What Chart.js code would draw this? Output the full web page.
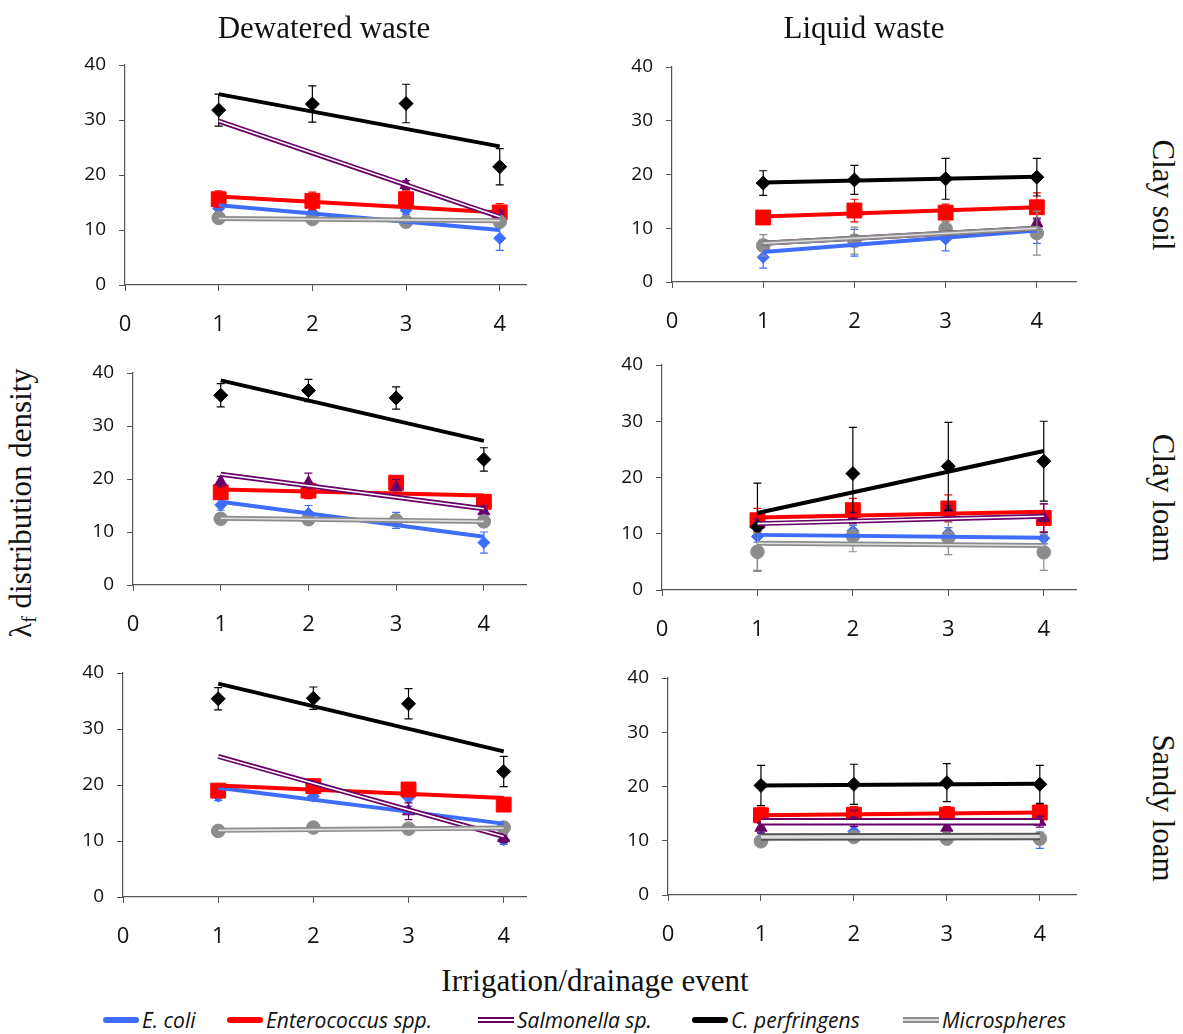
<!DOCTYPE html>
<html>
<head>
<meta charset="utf-8">
<script src="https://cdn.jsdelivr.net/npm/chart.js@4.4.1/dist/chart.umd.min.js"></script>
<style>
  body { margin: 0; background: #fff; }
  #page { position: relative; width: 1183px; height: 1034px; overflow: hidden; background: #fff; font-family: 'Liberation Serif', 'Times New Roman', serif; color: #111; }
  canvas { position: absolute; }
  .lbl { position: absolute; font-size: 31px; white-space: nowrap; transform: translate(-50%, -50%); line-height: 1; }
  .rot-r { transform: translate(-50%, -50%) rotate(90deg); }
  .rot-l { transform: translate(-50%, -50%) rotate(-90deg); }
  .rot-l sub { font-size: 20px; vertical-align: -5px; }
  .leg { position: absolute; top: 1007px; height: 26px; display: flex; align-items: center; font-family: 'Open Sans', sans-serif; font-style: italic; font-size: 21px; color: #111; white-space: nowrap; }
  .sw { width: 36px; height: 6px; border-radius: 3px; margin-right: 3px; box-sizing: border-box; }
</style>
</head>
<body>
<div id="page"></div>
<script>
// irrigation/drainage events and labels
const events = [1, 2, 3, 4];
const xTicks = [0, 1, 2, 3, 4];
const yTicks = [0, 10, 20, 30, 40];
const species = ['E. coli', 'Enterococcus spp.', 'Salmonella sp.', 'C. perfringens', 'Microspheres'];
const columnTitles = ['Dewatered waste', 'Liquid waste'];
const rowTitles = ['Clay soil', 'Clay loam', 'Sandy loam'];

// values per species: E. coli, Enterococcus, Salmonella, C. perfringens, Microspheres
const dewClaySoil = [[13.9, 13.2, 13.6, 8.5], [15.6, 15.3, 15.6, 13.2], [null, null, 18.2, 12.7], [31.8, 32.9, 33.0, 21.5], [12.2, 12.0, 11.5, 11.5]];
const dewClaySoilErr = [[0.8, 0.8, 0.8, 2.2], [1.5, 1.6, 1.5, 1.6], [0, 0, 0.8, 0.8], [2.9, 3.3, 3.5, 3.3], [0.8, 0.8, 0.8, 0.8]];
const dewClaySoilTrend = [[14.5, 10.0], [16.1, 13.2], [29.8, 12.4], [34.7, 25.2], [12.1, 11.7]];

const liqClaySoil = [[4.6, 7.3, 8.0, 9.4], [12.0, 13.3, 12.9, 13.9], [6.8, 7.6, 9.6, 10.9], [18.4, 19.0, 19.2, 19.5], [6.8, 7.7, 9.9, 9.1]];
const liqClaySoilErr = [[2.0, 2.5, 2.2, 2.2], [0.5, 2.1, 1.6, 2.7], [1.0, 1.0, 1.0, 1.0], [2.3, 2.7, 3.8, 3.5], [2.0, 2.5, 1.5, 4.1]];
const liqClaySoilTrend = [[5.6, 9.6], [12.2, 13.9], [7.2, 10.0], [18.5, 19.6], [7.2, 10.0]];

const dewClayLoam = [[15.1, 13.5, 12.2, 8.0], [17.5, 17.8, 19.3, 15.7], [19.5, 19.3, 18.4, 13.9], [35.8, 36.7, 35.3, 23.7], [12.5, 12.4, 12.2, 12.0]];
const dewClayLoamErr = [[1.0, 1.5, 1.5, 2.0], [1.0, 1.5, 1.0, 1.0], [1.0, 1.8, 1.5, 1.0], [2.2, 2.1, 2.1, 2.2], [0.8, 0.8, 1.0, 0.8]];
const dewClayLoamTrend = [[15.7, 9.1], [18.0, 16.9], [20.9, 14.4], [38.6, 27.2], [12.6, 12.0]];

const liqClayLoam = [[9.5, 10.5, 10.1, 9.2], [12.4, 14.2, 14.5, 12.8], [11.6, 12.8, 14.0, 12.8], [11.2, 20.7, 22.0, 22.9], [6.8, 9.6, 9.3, 6.7]];
const liqClayLoamErr = [[1.0, 1.0, 1.0, 1.0], [2.1, 2.1, 2.4, 2.5], [1.0, 1.0, 1.0, 2.5], [7.8, 8.2, 7.8, 7.1], [3.3, 2.8, 3.0, 3.2]];
const liqClayLoamTrend = [[9.8, 9.3], [12.9, 13.9], [11.8, 13.1], [13.7, 24.7], [8.3, 7.9]];

const dewSandyLoam = [[18.0, 18.0, 17.7, 10.2], [19.0, 19.8, 19.2, 16.5], [null, null, 15.3, 10.5], [35.4, 35.5, 34.5, 22.4], [11.8, 12.4, 12.2, 12.4]];
const dewSandyLoamErr = [[0.8, 0.8, 1.5, 0.8], [0.8, 0.8, 0.8, 0.8], [0, 0, 1.5, 0.8], [2.0, 2.0, 2.7, 2.7], [0.5, 0.5, 0.5, 0.5]];
const dewSandyLoamTrend = [[19.5, 13.1], [19.9, 17.7], [25.1, 10.8], [38.1, 26.0], [11.9, 12.3]];

const liqSandyLoam = [[10.5, 11.7, 11.0, 10.1], [14.7, 14.8, 14.8, 15.2], [12.4, 14.1, 12.4, 13.5], [20.2, 20.4, 20.7, 20.4], [9.9, 10.7, 10.4, 10.4]];
const liqSandyLoamErr = [[1.0, 1.0, 1.0, 1.5], [1.5, 1.5, 1.5, 1.5], [1.0, 1.5, 1.0, 1.0], [3.7, 3.7, 3.5, 3.5], [0.8, 0.8, 0.8, 0.8]];
const liqSandyLoamTrend = [[10.6, 10.6], [14.7, 15.2], [13.5, 13.5], [20.2, 20.5], [10.7, 10.8]];

// look of each species
const styles = [
  { color: '#3d6dfa', point: 'rectRot', r: 6, lw: 4 },
  { color: '#ff0000', point: 'rect', r: 10.5, lw: 4 },
  { color: '#680068', point: 'triangle', r: 7, lw: 5, inner: '#ffffff' },
  { color: '#000000', point: 'rectRot', r: 7, lw: 4 },
  { color: '#8c8c8c', point: 'circle', r: 6.8, lw: 5, inner: '#dedede' }
];

// panel placement in page pixels
const AXW = 70, AXH = 62, TPAD = 26, RPAD = 8;
const panels = [
  { vals: dewClaySoil, err: dewClaySoilErr, trend: dewClaySoilTrend, x0: 125, x4: 503, xEnd: 530, yTop: 65, yBottom: 285 },
  { vals: liqClaySoil, err: liqClaySoilErr, trend: liqClaySoilTrend, x0: 672, x4: 1040, xEnd: 1080, yTop: 67, yBottom: 282 },
  { vals: dewClayLoam, err: dewClayLoamErr, trend: dewClayLoamTrend, x0: 133, x4: 487, xEnd: 530, yTop: 373, yBottom: 585 },
  { vals: liqClayLoam, err: liqClayLoamErr, trend: liqClayLoamTrend, x0: 662, x4: 1047, xEnd: 1080, yTop: 365, yBottom: 590 },
  { vals: dewSandyLoam, err: dewSandyLoamErr, trend: dewSandyLoamTrend, x0: 123, x4: 507, xEnd: 530, yTop: 673, yBottom: 897 },
  { vals: liqSandyLoam, err: liqSandyLoamErr, trend: liqSandyLoamTrend, x0: 668, x4: 1043, xEnd: 1080, yTop: 678, yBottom: 895, wide: true }
];

// error bars drawn right after their own dataset
const errorBars = {
  id: 'errorBars',
  afterDatasetDraw(chart, args) {
    const ds = chart.data.datasets[args.index];
    if (!ds.errColor) return;
    const ctx = chart.ctx, xs = chart.scales.x, ys = chart.scales.y;
    ctx.save();
    ctx.strokeStyle = ds.errColor;
    ctx.lineWidth = 1.2;
    ds.data.forEach(p => {
      if (!p.e) return;
      const px = xs.getPixelForValue(p.x);
      const top = ys.getPixelForValue(p.y + p.e);
      const bot = ys.getPixelForValue(p.y - p.e);
      ctx.beginPath();
      ctx.moveTo(px, top); ctx.lineTo(px, bot);
      ctx.moveTo(px - 4, top); ctx.lineTo(px + 4, top);
      ctx.moveTo(px - 4, bot); ctx.lineTo(px + 4, bot);
      ctx.stroke();
    });
    ctx.restore();
  }
};

const page = document.getElementById('page');

function makePanel(p) {
  const cv = document.createElement('canvas');
  const w = p.xEnd - p.x0 + AXW + RPAD;
  const h = p.yBottom - p.yTop + TPAD + AXH;
  cv.width = w; cv.height = h;
  cv.style.left = (p.x0 - AXW) + 'px';
  cv.style.top = (p.yTop - TPAD) + 'px';
  page.appendChild(cv);

  const pointSets = [], trendSets = [];
  styles.forEach((s, i) => {
    const pts = [];
    events.forEach((x, j) => {
      if (p.vals[i][j] != null) pts.push({ x: x, y: p.vals[i][j], e: p.err[i][j] });
    });
    pointSets.push({
      data: pts, showLine: false, errColor: s.color,
      pointStyle: s.point, pointRadius: s.r, pointBackgroundColor: s.color,
      pointBorderColor: s.color, pointBorderWidth: 1
    });
    const line = [{ x: events[0], y: p.trend[i][0] }, { x: events[events.length - 1], y: p.trend[i][1] }];
    const outer = s.inner && p.wide ? s.lw + 2.5 : s.lw;
    const dark = s.inner && p.wide && i === 4 ? '#555555' : s.color;
    trendSets.push({ data: line, showLine: true, borderColor: dark, borderWidth: outer, pointRadius: 0, borderCapStyle: 'butt' });
    if (s.inner) {
      trendSets.push({ data: line, showLine: true, borderColor: s.inner, borderWidth: p.wide ? 3.5 : 1.6, pointRadius: 0, borderCapStyle: 'butt' });
    }
  });
  const sets = pointSets.concat(trendSets);
  sets.forEach((d, k) => { d.order = sets.length - k; });

  const xMax = 4 * (p.xEnd - p.x0) / (p.x4 - p.x0);
  new Chart(cv, {
    type: 'scatter',
    data: { datasets: sets },
    plugins: [errorBars],
    options: {
      responsive: false,
      animation: false,
      devicePixelRatio: 1,
      layout: { padding: { top: TPAD, right: RPAD, left: 0, bottom: 0 } },
      plugins: { legend: { display: false }, tooltip: { enabled: false } },
      scales: {
        x: {
          type: 'linear', min: 0, max: xMax,
          afterBuildTicks: sc => { sc.ticks = xTicks.map(v => ({ value: v })); },
          afterFit: sc => { sc.height = AXH; },
          grid: { display: true, drawOnChartArea: false, drawTicks: true, tickLength: 6, color: '#555' },
          border: { display: true, color: '#555', width: 1.2 },
          ticks: { padding: 21, color: '#111', font: { family: 'Open Sans', size: 22 } }
        },
        y: {
          type: 'linear', min: 0, max: 40,
          afterBuildTicks: sc => { sc.ticks = yTicks.map(v => ({ value: v })); },
          afterFit: sc => { sc.width = AXW; },
          grid: { display: true, drawOnChartArea: false, drawTicks: true, tickLength: 6, color: '#555' },
          border: { display: true, color: '#555', width: 1.2 },
          ticks: { padding: 13, color: '#111', font: { family: 'Open Sans', size: 19 } }
        }
      }
    }
  });
}

panels.forEach(makePanel);

function addLabel(text, x, y, cls, html) {
  const d = document.createElement('div');
  d.className = 'lbl' + (cls ? ' ' + cls : '');
  if (html) d.innerHTML = html; else d.textContent = text;
  d.style.left = x + 'px';
  d.style.top = y + 'px';
  page.appendChild(d);
}

addLabel(columnTitles[0], 324, 27);
addLabel(columnTitles[1], 864, 27);
addLabel(rowTitles[0], 1163, 195, 'rot-r');
addLabel(rowTitles[1], 1163, 498, 'rot-r');
addLabel(rowTitles[2], 1163, 808, 'rot-r');
addLabel('', 22, 503, 'rot-l', 'λ<sub>f</sub> distribution density');
addLabel('Irrigation/drainage event', 595, 980);

// legend below the panels
const legendLeft = [103, 227, 478, 692, 903];
species.forEach((name, i) => {
  const s = styles[i];
  const item = document.createElement('div');
  item.className = 'leg';
  item.style.left = legendLeft[i] + 'px';
  const sw = document.createElement('span');
  sw.className = 'sw';
  if (s.inner) {
    sw.style.borderRadius = '0';
    sw.style.borderTop = '2px solid ' + s.color;
    sw.style.borderBottom = '2px solid ' + s.color;
    sw.style.background = s.inner;
  } else {
    sw.style.background = s.color;
  }
  const t = document.createElement('span');
  t.textContent = name;
  item.appendChild(sw);
  item.appendChild(t);
  page.appendChild(item);
});
</script>
</body>
</html>
